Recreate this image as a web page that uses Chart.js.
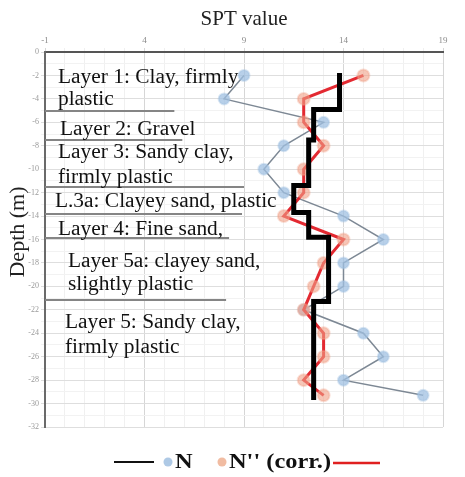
<!DOCTYPE html>
<html>
<head>
<meta charset="utf-8">
<script src="https://cdn.jsdelivr.net/npm/chart.js@4.4.1/dist/chart.umd.min.js"></script>
<style>
  html, body { margin: 0; padding: 0; background: #fff; }
  #wrap { width: 465px; height: 477px; }
</style>
</head>
<body>
<div id="wrap"><canvas id="spt_chart" width="465" height="477"></canvas></div>
<script>
// sample depths (m) and SPT blow counts
var depths = [2, 4, 6, 8, 10, 12, 14, 16, 18, 20, 22, 24, 26, 28, 29.3];
var nValues = [9, 8, 13, 11, 10, 11, 14, 16, 14, 14, 12, 15, 16, 14, 18];
var nCorr = [15, 12, 12, 13, 12, 12, 11, 14, 13, 12.5, 12, 13, 13, 12, 13];

// design value per layer (black step line)
var layerTop = [1.8, 4.9, 7.5, 11.4, 13.7, 15.8, 21.3];
var layerBottom = [4.9, 7.5, 11.4, 13.7, 15.8, 21.3, 29.7];
var layerValue = [13.8, 12.5, 12.25, 11.5, 12.25, 13.25, 12.5];

// layer descriptions: [text, x value, depth]
var layerText = [
    ["Layer 1: Clay, firmly", -0.35, 2.2],
    ["plastic", -0.35, 4.1],
    ["Layer 2: Gravel", -0.25, 6.6],
    ["Layer 3: Sandy clay,", -0.35, 8.6],
    ["firmly plastic", -0.35, 10.7],
    ["L.3a: Clayey sand, plastic", -0.5, 12.8],
    ["Layer 4: Fine sand,", -0.35, 15.2],
    ["Layer 5a: clayey sand,", 0.15, 17.9],
    ["slightly plastic", 0.15, 19.9],
    ["Layer 5: Sandy clay,", 0, 23.1],
    ["firmly plastic", 0, 25.2]
];
// separator lines under the text: [depth, end x value]
var separators = [[5.05, 5.5], [7.5, 5.9], [11.5, 9.0], [13.8, 8.9], [15.9, 8.25], [21.2, 8.1]];

function toPoints(xs, ys) {
    return ys.map(function (d, i) { return { x: xs[i], y: -d }; });
}

var stepPoints = [];
layerValue.forEach(function (v, i) {
    stepPoints.push({ x: v, y: -layerTop[i] });
    stepPoints.push({ x: v, y: -layerBottom[i] });
});

var annotations = {
    id: 'annotations',
    beforeDatasetsDraw: function (chart) {
        var ctx = chart.ctx, xs = chart.scales.x, ys = chart.scales.y;
        ctx.save();
        ctx.strokeStyle = '#858585';
        ctx.lineWidth = 2;
        separators.forEach(function (s) {
            var y = Math.round(ys.getPixelForValue(-s[0]));
            ctx.beginPath();
            ctx.moveTo(chart.chartArea.left, y);
            ctx.lineTo(xs.getPixelForValue(s[1]), y);
            ctx.stroke();
        });
        ctx.fillStyle = '#111';
        ctx.textBaseline = 'middle';
        ctx.font = '20px "Liberation Serif"';
        layerText.forEach(function (t) {
            var px = xs.getPixelForValue(t[1]), py = ys.getPixelForValue(-t[2]);
            ctx.save();
            ctx.translate(px, py);
            ctx.scale(1.07, 1);
            ctx.fillText(t[0], 0, 0);
            ctx.restore();
        });
        ctx.restore();
    },
    afterDraw: function (chart) {
        var ctx = chart.ctx;
        ctx.save();
        ctx.fillStyle = '#222';
        ctx.textAlign = 'center';
        ctx.textBaseline = 'middle';
        ctx.font = '21px "Liberation Serif"';
        ctx.fillText('SPT value', 244, 19);
        ctx.save();
        ctx.translate(18, 232);
        ctx.rotate(-Math.PI / 2);
        ctx.font = '22px "Liberation Serif"';
        ctx.fillText('Depth (m)', 0, 0);
        ctx.restore();

        // legend
        var ly = 462;
        ctx.strokeStyle = '#111';
        ctx.lineWidth = 2;
        ctx.beginPath(); ctx.moveTo(114, ly); ctx.lineTo(154, ly); ctx.stroke();
        ctx.fillStyle = 'rgba(160,192,225,0.85)';
        ctx.beginPath(); ctx.arc(168, ly, 4.5, 0, Math.PI * 2); ctx.fill();
        ctx.fillStyle = 'rgba(238,176,146,0.85)';
        ctx.beginPath(); ctx.arc(222, ly, 4.5, 0, Math.PI * 2); ctx.fill();
        ctx.fillStyle = '#111';
        ctx.textAlign = 'left';
        ctx.font = 'bold 20px "Liberation Serif"';
        [['N', 175], ["N'' (corr.)", 229]].forEach(function (l) {
            ctx.save();
            ctx.translate(l[1], ly + 1);
            ctx.scale(1.22, 1);
            ctx.fillText(l[0], 0, 0);
            ctx.restore();
        });
        ctx.strokeStyle = '#e02020';
        ctx.lineWidth = 2.5;
        ctx.beginPath(); ctx.moveTo(333, ly + 1); ctx.lineTo(380, ly + 1); ctx.stroke();
        ctx.restore();
    }
};

new Chart(document.getElementById("spt_chart").getContext("2d"), {
    type: 'scatter',
    data: {
        datasets: [{
            label: "Design",
            data: stepPoints,
            showLine: true,
            borderColor: '#000',
            borderWidth: 5,
            pointRadius: 0,
            borderJoinStyle: 'miter',
            order: 1
        }, {
            label: "N'' (corr.)",
            data: toPoints(nCorr, depths),
            showLine: true,
            borderColor: 'rgba(226, 30, 38, 0.95)',
            borderWidth: 3,
            pointRadius: 6,
            pointBackgroundColor: 'rgba(240, 160, 135, 0.6)',
            pointBorderColor: 'rgba(240, 160, 135, 0.35)',
            pointBorderWidth: 2,
            order: 2
        }, {
            label: "N",
            data: toPoints(nValues, depths),
            showLine: true,
            borderColor: '#7d8894',
            borderWidth: 1.5,
            pointRadius: 5.5,
            pointBackgroundColor: 'rgba(160, 192, 225, 0.75)',
            pointBorderColor: 'rgba(160, 192, 225, 0.4)',
            pointBorderWidth: 2,
            order: 3
        }]
    },
    options: {
        responsive: false,
        animation: false,
        layout: { padding: { top: 30, left: 0, right: 22, bottom: 50 } },
        plugins: { legend: { display: false }, tooltip: { enabled: false } },
        scales: {
            x: {
                type: 'linear',
                position: 'top',
                min: -1,
                max: 19,
                afterFit: function (scale) { scale.height = 22; },
                ticks: {
                    stepSize: 1,
                    autoSkip: false,
                    maxRotation: 0,
                    padding: 2,
                    color: '#8a8a8a',
                    font: { family: 'Liberation Serif', size: 9 },
                    callback: function (v) { return (v + 1) % 5 === 0 ? v : ''; }
                },
                grid: {
                    tickLength: 4,
                    color: function (c) { return (c.tick && (c.tick.value + 1) % 5 === 0) ? '#d6d6d6' : '#f0f0f0'; }
                },
                border: { color: '#555', width: 2 }
            },
            y: {
                type: 'linear',
                min: -32,
                max: 0,
                afterFit: function (scale) { scale.width = 45; },
                ticks: {
                    stepSize: 1,
                    autoSkip: false,
                    padding: 2,
                    color: '#9a9a9a',
                    font: { family: 'Liberation Serif', size: 8 },
                    callback: function (v) { return v % 2 === 0 ? v : ''; }
                },
                grid: {
                    tickLength: 4,
                    color: function (c) { return (c.tick && c.tick.value % 2 === 0) ? '#dedede' : '#f2f2f2'; }
                },
                border: { color: '#6a6a6a', width: 2 }
            }
        }
    },
    plugins: [annotations]
});
</script>
</body>
</html>
